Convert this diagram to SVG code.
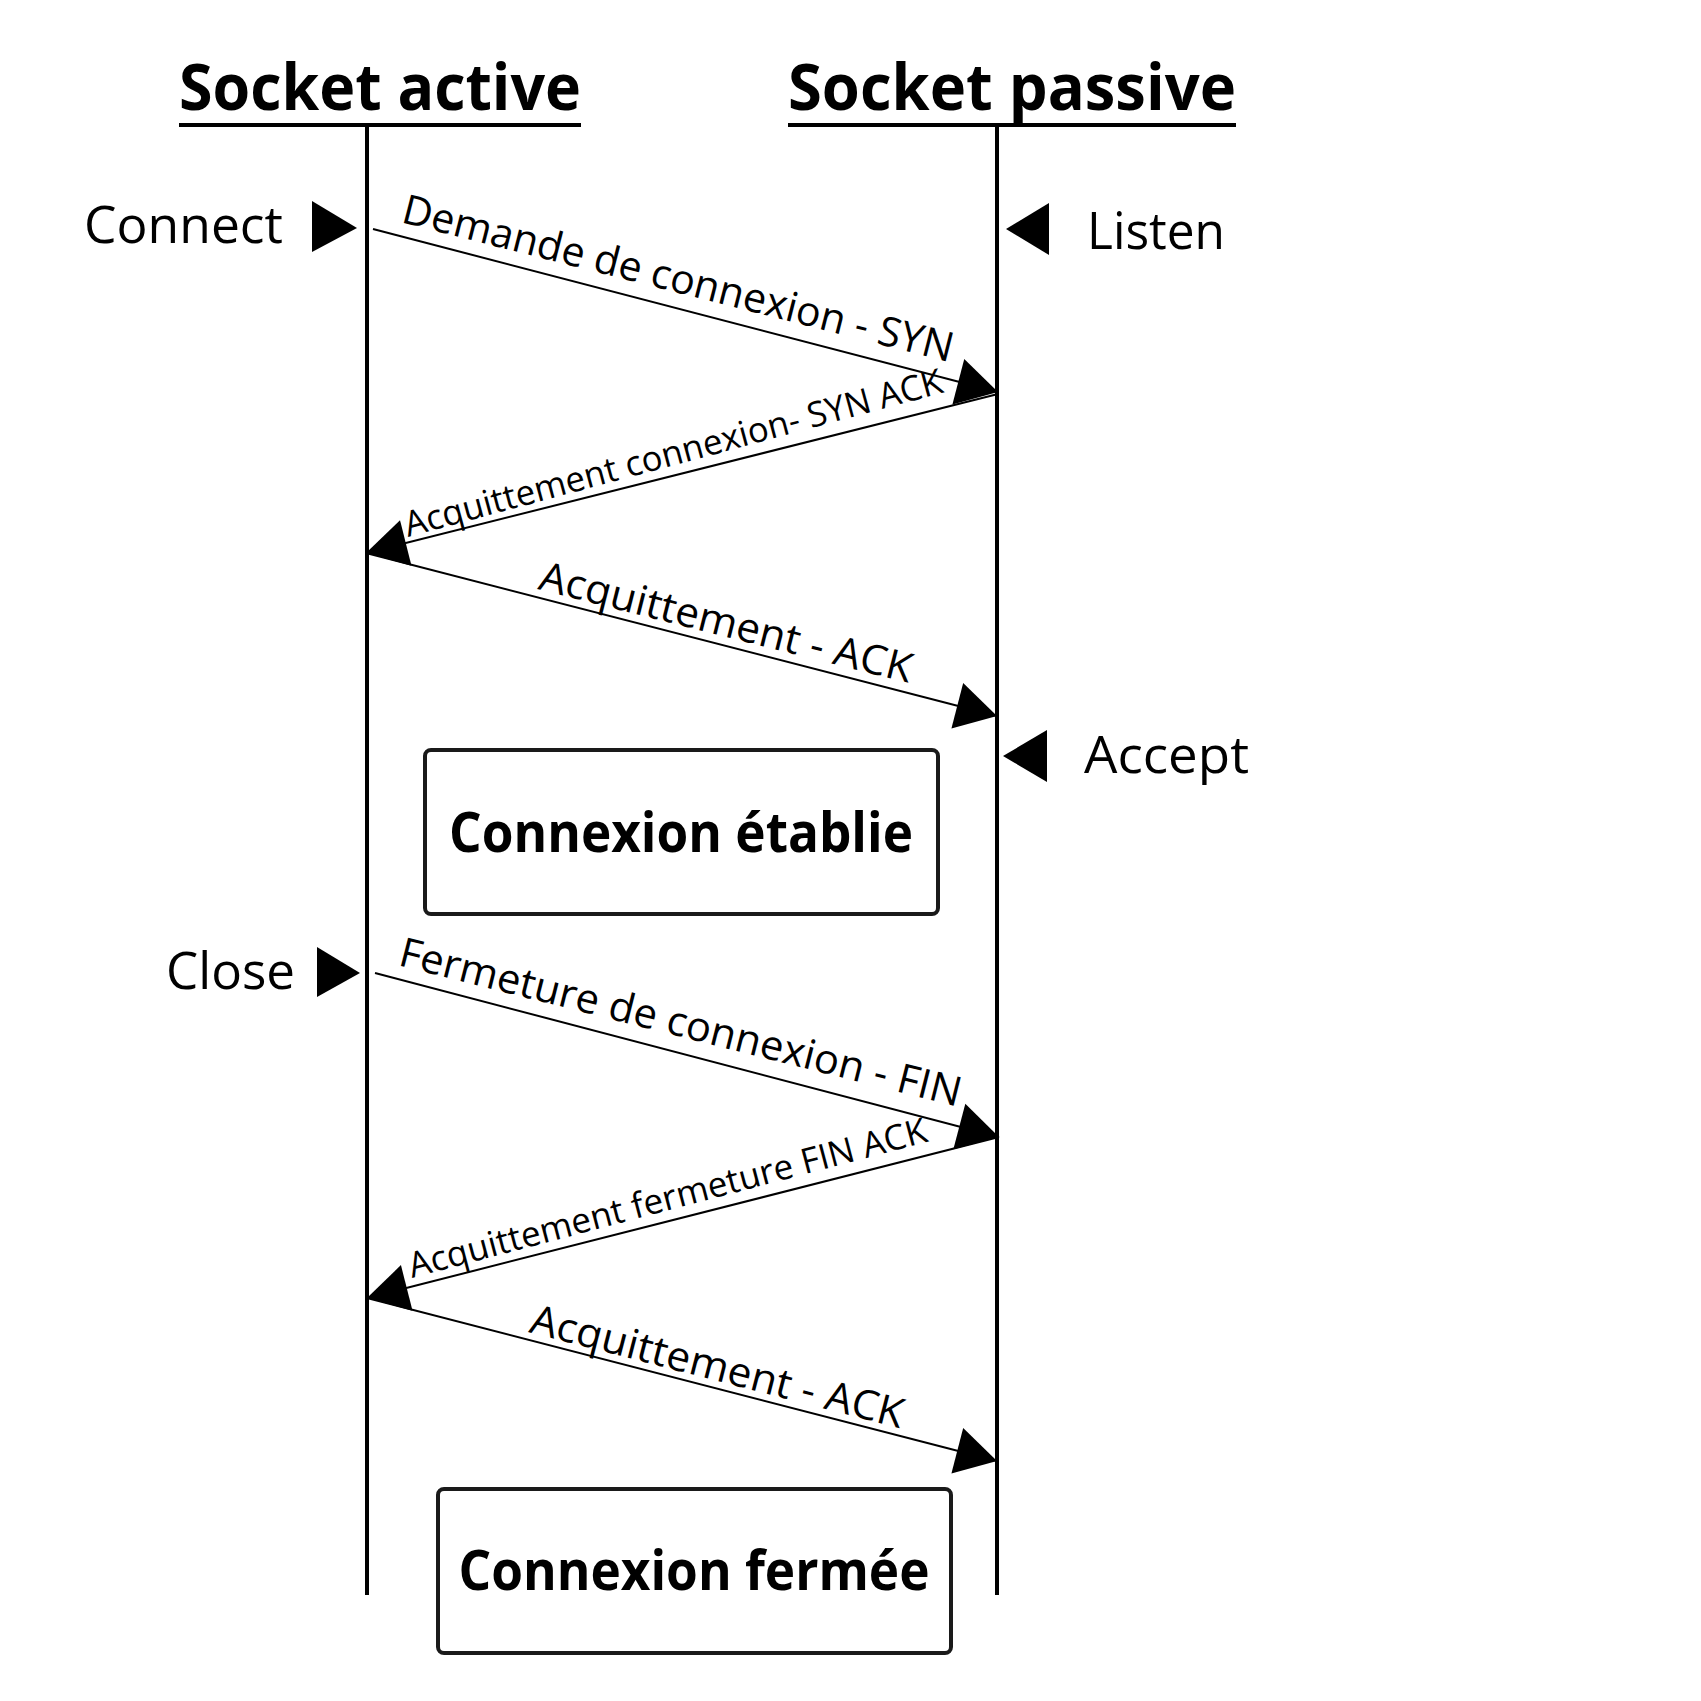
<svg xmlns="http://www.w3.org/2000/svg" width="1701" height="1701" viewBox="0 0 1701 1701">
<defs>
<style>
.t{font-family:"Open Sans","Noto Sans",sans-serif;fill:#000}
.title{font-weight:bold;font-size:64px}
.lbl{font-size:52px}
.msg{font-size:41px}
.msgs{font-size:35px}
.box{fill:#fff;stroke:#1a1a1a;stroke-width:4}
.boxt{font-weight:bold;font-size:55px}
.life{stroke:#000;stroke-width:4;fill:none}
.msgl{stroke:#000;stroke-width:2;fill:none;marker-end:url(#ah)}
.tri{fill:#000}
</style>
<marker id="ah" markerUnits="userSpaceOnUse" markerWidth="42" markerHeight="48" refX="41" refY="23.5" orient="auto" overflow="visible">
<path d="M0,0 L41,23.5 L0,47 Z" fill="#000"/>
</marker>
</defs>
<rect width="1701" height="1701" fill="#fff"/>

<g id="lane-active">
<text class="t title" x="179" y="110" textLength="402" lengthAdjust="spacingAndGlyphs">Socket active</text>
<line x1="179" y1="125" x2="581" y2="125" stroke="#000" stroke-width="4"/>
<line class="life" x1="367" y1="125" x2="367" y2="1595"/>
</g>
<g id="lane-passive">
<text class="t title" x="788" y="110" textLength="448" lengthAdjust="spacingAndGlyphs">Socket passive</text>
<line x1="788" y1="125" x2="1236" y2="125" stroke="#000" stroke-width="4"/>
<line class="life" x1="997" y1="125" x2="997" y2="1595"/>
</g>

<g id="connect">
<text class="t lbl" x="84" y="243" textLength="199" lengthAdjust="spacingAndGlyphs">Connect</text>
<polygon class="tri" points="312,201 312,252 357,228"/>
</g>
<g id="listen">
<text class="t lbl" x="1087" y="249" textLength="138" lengthAdjust="spacingAndGlyphs">Listen</text>
<polygon class="tri" points="1049,203 1049,255 1006,229"/>
</g>
<g id="accept">
<text class="t lbl" x="1084" y="773" textLength="165" lengthAdjust="spacingAndGlyphs">Accept</text>
<polygon class="tri" points="1047,730 1047,782 1003,756"/>
</g>
<g id="close">
<text class="t lbl" x="166" y="989" textLength="129" lengthAdjust="spacingAndGlyphs">Close</text>
<polygon class="tri" points="317,947 317,997 360,973"/>
</g>

<g id="connectors">
<line class="msgl" x1="373" y1="229" x2="998" y2="392"/>
<line class="msgl" x1="998" y1="394" x2="366" y2="553"/>
<line class="msgl" x1="366" y1="553" x2="997" y2="716"/>
<line class="msgl" x1="375" y1="973" x2="999" y2="1137"/>
<line class="msgl" x1="999" y1="1137" x2="367" y2="1298"/>
<line class="msgl" x1="367" y1="1298" x2="997" y2="1461"/>
<text class="t msg" transform="translate(400,222) rotate(14.3)" textLength="567" lengthAdjust="spacingAndGlyphs">Demande de connexion - SYN</text>
<text class="t msgs" transform="translate(408,537) rotate(-15.1)" textLength="556" lengthAdjust="spacingAndGlyphs">Acquittement connexion- SYN ACK</text>
<text class="t msg" transform="translate(537,589) rotate(14.2)" textLength="383" lengthAdjust="spacingAndGlyphs">Acquittement - ACK</text>
<text class="t msg" transform="translate(397,965) rotate(14.2)" textLength="578" lengthAdjust="spacingAndGlyphs">Fermeture de connexion - FIN</text>
<text class="t msgs" transform="translate(412,1278) rotate(-14.8)" textLength="535" lengthAdjust="spacingAndGlyphs">Acquittement fermeture FIN ACK</text>
<text class="t msg" transform="translate(528,1332) rotate(14.5)" textLength="384" lengthAdjust="spacingAndGlyphs">Acquittement - ACK</text>
</g>

<g id="etablie">
<rect class="box" x="425" y="750" width="513" height="164" rx="6"/>
<text class="t boxt" x="681" y="852" text-anchor="middle" textLength="464" lengthAdjust="spacingAndGlyphs">Connexion établie</text>
</g>
<g id="fermee">
<rect class="box" x="438" y="1489" width="513" height="164" rx="6"/>
<text class="t boxt" x="694" y="1590" text-anchor="middle" textLength="471" lengthAdjust="spacingAndGlyphs">Connexion fermée</text>
</g>
</svg>
